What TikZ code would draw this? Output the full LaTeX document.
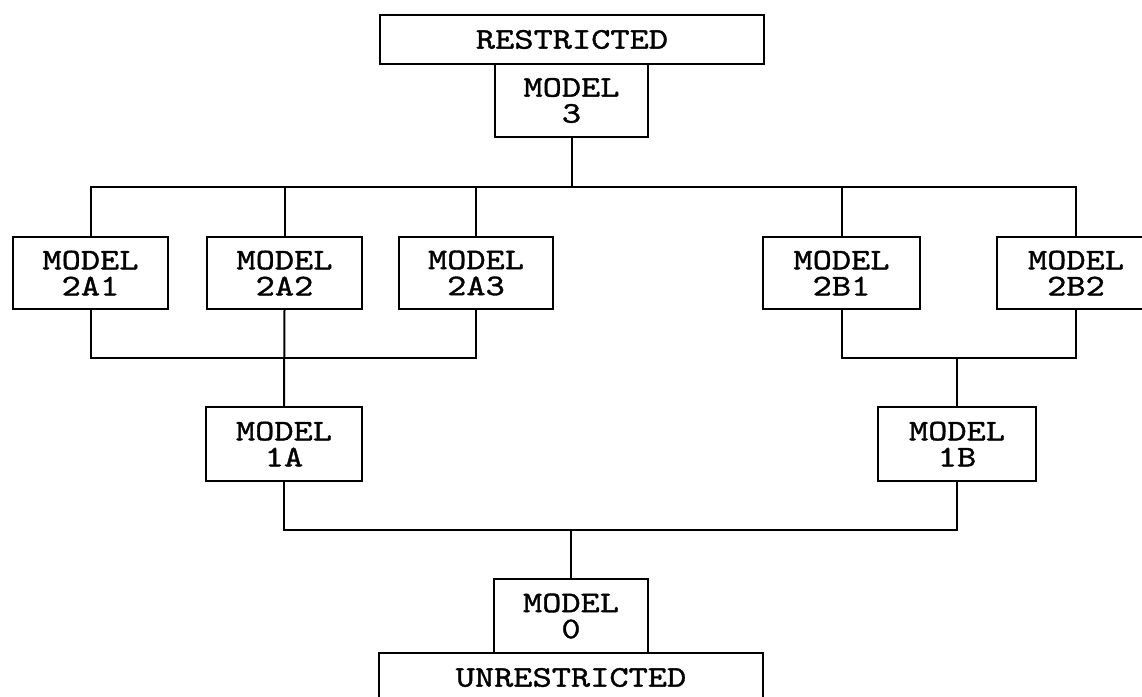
\documentclass[tikz,border=0pt]{standalone}
\usepackage{fontspec}
\newfontfamily\boxfont{lmmono10-regular}[Extension=.otf, FakeStretch=1.22, FakeBold=1.2]
\begin{document}
\begin{tikzpicture}[x=1pt,y=-1pt,
  line width=2pt,
  box/.style={draw, rectangle, inner sep=0pt, minimum width=155pt, minimum height=72pt,
    align=center, font=\boxfont\fontsize{30}{26}\selectfont},
  wide/.style={box, minimum width=384pt, minimum height=49pt}]
\useasboundingbox (0,0) rectangle (1142,696);
\node[wide] (R) at (572,39.5) {RESTRICTED};
\node[box, minimum width=153pt, minimum height=73pt] (M3) at (571.5,100.5) {MODEL\\3};
\node[box] (A1) at (90.5,273) {MODEL\\2A1};
\node[box] (A2) at (284.5,273) {MODEL\\2A2};
\node[box, minimum width=154pt] (A3) at (476,273) {MODEL\\2A3};
\node[box, minimum width=157pt] (B1) at (841.5,273) {MODEL\\2B1};
\node[box, minimum width=158pt] (B2) at (1076,273) {MODEL\\2B2};
\node[box, minimum width=156pt, minimum height=74pt] (P1A) at (284,444) {MODEL\\1A};
\node[box, minimum width=158pt, minimum height=74pt] (P1B) at (957,444) {MODEL\\1B};
\node[box, minimum width=154pt, minimum height=74pt] (M0) at (571,616) {MODEL\\0};
\node[wide] (U) at (571,677.5) {UNRESTRICTED};
% top bus
\coordinate (tb) at (571.5,187);
\draw (M3.south) -- (tb);
\draw (A1.north) |- (tb) -| (B2.north);
\draw (A2.north) -- (A2.north |- tb);
\draw (A3.north) -- (A3.north |- tb);
\draw (B1.north) -- (B1.north |- tb);
% A bus
\coordinate (ab) at (284.5,358);
\draw (A1.south) |- (ab) -| (A3.south);
\draw (A2.south) -- (P1A.north);
% B bus
\coordinate (bb) at (957,358);
\draw (B1.south) |- (bb) -| (B2.south);
\draw (P1B.north) -- (bb);
% bottom bus
\coordinate (cb) at (571,530);
\draw (P1A.south) |- (cb) -| (P1B.south);
\draw (M0.north) -- (cb);
\end{tikzpicture}
\end{document}
